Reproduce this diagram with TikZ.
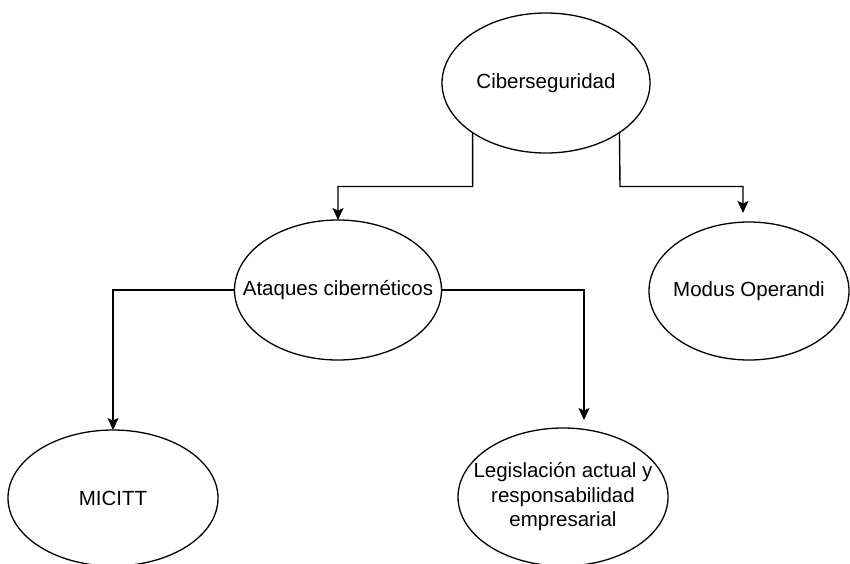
\documentclass[tikz,border=0pt]{standalone}
\usepackage{fontspec}
\setmainfont{Liberation Sans}
\usetikzlibrary{shapes.geometric,arrows.meta}
\begin{document}
\begin{tikzpicture}[x=1pt,y=-1pt,
  oval/.style={ellipse,draw=black,line width=1.3pt,inner sep=0pt,outer sep=0pt},
  lbl/.style={font=\fontsize{20.5}{24.5}\selectfont,align=center,text=black},
  arr/.style={draw=black,line width=1.4pt,-{Stealth[length=12pt,width=11pt,inset=2.5pt]}}]
\useasboundingbox (0,0) rectangle (850,563);
\node[oval,minimum width=208pt,minimum height=140pt,label={[lbl]center:Ciberseguridad}] (cib) at (546,83) {};
\node[oval,minimum width=207pt,minimum height=140pt,label={[lbl]center:Ataques cibernéticos}] (ata) at (338,290) {};
\node[oval,minimum width=200pt,minimum height=138pt,label={[lbl]center:Modus Operandi}] (mod) at (749,291) {};
\node[oval,minimum width=210pt,minimum height=136pt,label={[lbl]center:MICITT}] (mic) at (113,498) {};
\node[oval,minimum width=210pt,minimum height=138pt,label={[lbl]center:Legislación actual y\\responsabilidad\\empresarial}] (leg) at (563,497) {};
\coordinate (j1) at (472.7,186.5);
\coordinate (j2) at (620,186.5);
\coordinate (modtip) at (743,213);
\coordinate (legtip) at (584,420);
\draw[arr] (cib.214) -- (j1) -| (ata.north);
\draw[arr] (cib.326) -- (j2) -| (modtip);
\draw[arr] (ata.west) -| (mic.north);
\draw[arr] (ata.east) -| (legtip);
\end{tikzpicture}
\end{document}
